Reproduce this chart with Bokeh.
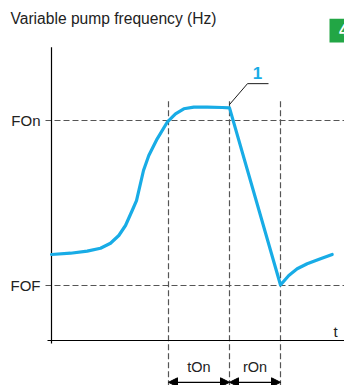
from bokeh.plotting import figure
from bokeh.models import Arrow, NormalHead
from bokeh.core.properties import value
from bokeh.embed import file_html
from bokeh.resources import INLINE

# ---- data (time in arbitrary units, frequency in Hz-like units) ----
curve_t = [0.0, 1.9, 3.57, 4.9, 5.9, 6.73, 7.4, 8.07, 8.5, 9.2, 9.73, 10.57, 11.57, 12.4, 13.23, 14.23,
           15.57, 17.07, 17.8,
           22.9, 23.73, 24.57, 25.57, 26.9, 28.07]
curve_f = [15.64, 15.87, 16.24, 16.78, 17.69, 19.09, 20.91, 23.64, 25.45, 30.91, 33.64, 36.67, 39.69, 41.22,
           42.13, 42.42, 42.42, 42.36, 42.3,
           10.1, 11.82, 13.04, 13.95, 14.85, 15.64]
FOn = 40.0
FOF = 10.0
t_start_on = 11.7
t_end_on = 17.8
t_end_ron = 22.9
level_labels = ["FOn", "FOF"]
interval_labels = ["tOn", "rOn"]
title_text = "Variable pump frequency (Hz)"
marker_label = "1"

# ---- figure (pixel-calibrated ranges: 10 px per t unit, 5.5 px per f unit) ----
W, H = 344, 385
x0, x1 = -5.1, 29.3
y0, y1 = -45 / 5.5, 340 / 5.5

p = figure(width=W, height=H, x_range=(x0, x1), y_range=(y0, y1),
           output_backend="svg", toolbar_location=None, title=None,
           x_axis_location=None, y_axis_location=None, min_border=0)
p.grid.visible = False
p.outline_line_color = None
p.background_fill_color = "white"
p.border_fill_color = "white"

FONT = value("Liberation Sans")
dash_col = "#555555"

# horizontal dashed levels
for lvl in (FOn, FOF):
    p.line([-0.6, x1], [lvl, lvl], line_color=dash_col, line_width=1.2, line_dash="6 3")

# vertical dashed markers
for tv in (t_start_on, t_end_on, t_end_ron):
    p.line([tv, tv], [43.5, y0], line_color=dash_col, line_width=1.2, line_dash="6 3")

# axes
p.line([0, 0], [53.3, -0.55], line_color="black", line_width=1.2)
p.line([-0.4, x1], [0, 0], line_color="black", line_width=1.2)

# curve
p.line(curve_t, curve_f, line_color="#18ACE6", line_width=3.2, line_join="round", line_cap="round")

# leader line for marker "1"
p.line([t_end_on, 19.6, 21.7], [42.9, 46.7, 46.7], line_color="black", line_width=0.9)
p.text(x=[20.6], y=[48.7], text=[marker_label], text_color="#18ACE6", text_font=FONT,
       text_font_size="17px", text_font_style="bold", text_align="center", text_baseline="middle")

# labels
p.text(x=[-1.1, -1.1], y=[FOn, FOF], text=level_labels, text_font=FONT, text_font_size="15px",
       text_align="right", text_baseline="middle", text_color="#222222")
p.text(x=[-4.1], y=[58.5], text=[title_text], text_font=FONT, text_font_size="15.6px",
       text_align="left", text_baseline="middle", text_color="#222222")
p.text(x=[28.4], y=[1.6], text=["t"], text_font=FONT, text_font_size="15px",
       text_align="center", text_baseline="middle", text_color="#222222")

label_y = -4.9
p.text(x=[(t_start_on + t_end_on) / 2, (t_end_on + t_end_ron) / 2], y=[label_y, label_y],
       text=interval_labels, text_font=FONT, text_font_size="14.5px",
       text_align="center", text_baseline="middle", text_color="#222222")

arrow_y = -7.6
for a, b in ((t_start_on, t_end_on), (t_end_on, t_end_ron)):
    p.add_layout(Arrow(start=NormalHead(size=9, fill_color="black", line_color="black"),
                       end=NormalHead(size=9, fill_color="black", line_color="black"),
                       x_start=a, y_start=arrow_y, x_end=b, y_end=arrow_y,
                       line_color="black", line_width=1.2))

# green page marker
p.quad(left=[27.8], right=[29.4], bottom=[54.2], top=[58.5], fill_color="#22A645", line_color=None)
p.text(x=[28.75], y=[56.4], text=["4"], text_font=FONT, text_font_size="16px", text_font_style="bold",
       text_color="white", text_align="left", text_baseline="middle")

open("out.html", "w").write(file_html(p, INLINE))
